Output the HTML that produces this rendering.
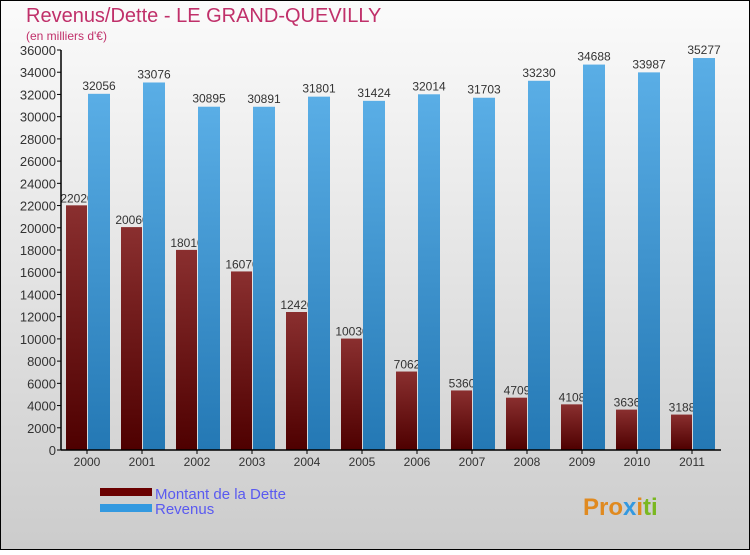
<!DOCTYPE html>
<html><head><meta charset="utf-8"><style>
body{margin:0}
svg text{font-family:"Liberation Sans",sans-serif}
</style></head><body>
<svg id="c" width="750" height="550" xmlns="http://www.w3.org/2000/svg">
<defs>
<linearGradient id="bg" x1="0" y1="0" x2="0" y2="1"><stop offset="0" stop-color="#fbfbfb"/><stop offset="1" stop-color="#cccccc"/></linearGradient>
<linearGradient id="gd" x1="0" y1="0" x2="0" y2="1"><stop offset="0" stop-color="#8a2f2f"/><stop offset="1" stop-color="#4e0000"/></linearGradient>
<linearGradient id="gr" x1="0" y1="0" x2="0" y2="1"><stop offset="0" stop-color="#5aaee6"/><stop offset="1" stop-color="#2478b4"/></linearGradient>
</defs>
<rect x="0.5" y="0.5" width="749" height="549" fill="url(#bg)" stroke="#000"/>
<text x="26" y="22" font-size="20" fill="#c0306a">Revenus/Dette - LE GRAND-QUEVILLY</text>
<text x="26" y="40" font-size="12" fill="#c0306a">(en milliers d'€)</text>
<g id="plot"></g>
<rect x="100" y="488" width="52" height="8" fill="#6a0000"/>
<text x="155" y="499" font-size="15" fill="#5a5af0">Montant de la Dette</text>
<rect x="100" y="504" width="52" height="8" fill="#3399e0"/>
<text x="155" y="514" font-size="15" fill="#5a5af0">Revenus</text>
<text x="583" y="515" font-size="24" font-weight="bold" fill="#e08a20">Pro<tspan fill="#3399e0">x</tspan>i<tspan fill="#7ab820">ti</tspan></text>
</svg>
<script>
const years=["2000","2001","2002","2003","2004","2005","2006","2007","2008","2009","2010","2011"];
const dette=[22020,20060,18010,16070,12420,10030,7062,5360,4709,4108,3636,3188];
const revenus=[32056,33076,30895,30891,31801,31424,32014,31703,33230,34688,33987,35277];
const yTicks=[0,2000,4000,6000,8000,10000,12000,14000,16000,18000,20000,22000,24000,26000,28000,30000,32000,34000,36000];
const NS="http://www.w3.org/2000/svg";
const g=document.getElementById('plot');
const x0=61,step=55,y0=450,yTop=50,yMax=36000;
function y(v){return y0-(v/yMax)*(y0-yTop);}
function xc(i){return x0+26+i*step;}
function mk(t,a){const e=document.createElementNS(NS,t);for(const k in a)e.setAttribute(k,a[k]);g.appendChild(e);return e;}
yTicks.forEach(v=>{
  const l=mk('line',{x1:x0-4,x2:x0,y1:y(v),y2:y(v),stroke:'#000'});
  
  
  const t=mk('text',{x:x0-5,y:y(v)+5,'text-anchor':'end','font-size':13,fill:'#333'});
  t.textContent=v;
  
  
});
years.forEach((yr,i)=>{
  const c=xc(i);
  const b=mk('rect',{x:c-21,y:y(dette[i]),width:21,height:y0-y(dette[i]),fill:'url(#gd)'});
  
  
  const t=mk('text',{x:c-10,y:y(dette[i])-3,'text-anchor':'middle','font-size':12,fill:'#333'});
  t.textContent=dette[i];
  
  
});
years.forEach((yr,i)=>{
  const c=xc(i);
  const b=mk('rect',{x:c+1,y:y(revenus[i]),width:22,height:y0-y(revenus[i]),fill:'url(#gr)'});
  
  
  const t=mk('text',{x:c+12,y:y(revenus[i])-4,'text-anchor':'middle','font-size':12,fill:'#333'});
  t.textContent=revenus[i];
  
  
  const tk=mk('line',{x1:c,x2:c,y1:y0,y2:y0+4,stroke:'#000'});
  
  
  const xl=mk('text',{x:c,y:y0+16,'text-anchor':'middle','font-size':12,fill:'#333'});
  xl.textContent=yr;
  
  
});
const ax=mk('line',{x1:x0,x2:x0,y1:yTop,y2:y0,stroke:'#000','stroke-width':1.5});


const bx=mk('line',{x1:x0,x2:x0+12*step,y1:y0,y2:y0,stroke:'#000','stroke-width':1.5});


</script>
</body></html>
